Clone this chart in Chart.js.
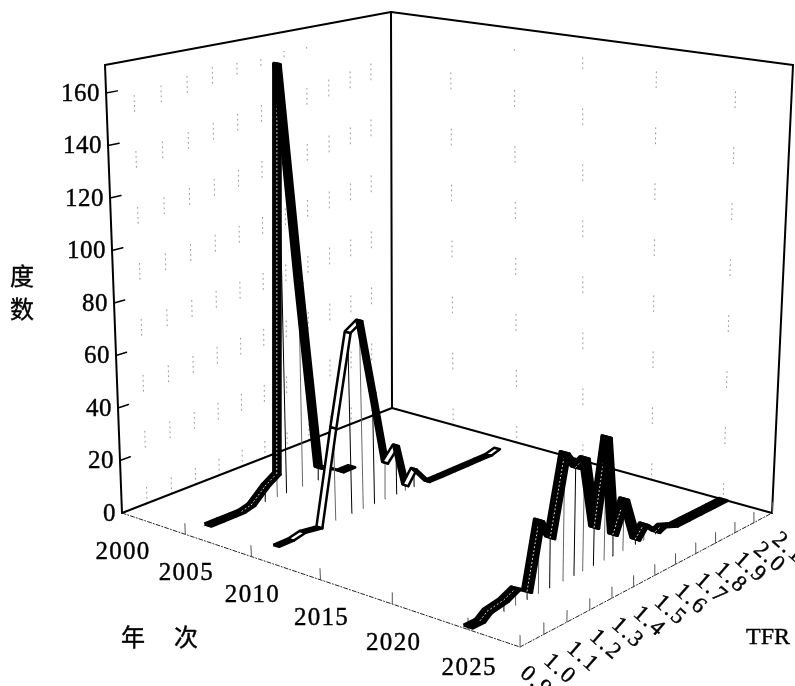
<!DOCTYPE html>
<html>
<head>
<meta charset="utf-8">
<title>TFR</title>
<script src="https://cdn.jsdelivr.net/npm/chart.js@4"></script>
<style>
  html, body { margin: 0; padding: 0; background: #fff; overflow: hidden; }
  canvas { display: block; }
</style>
</head>
<body>
<canvas id="tfrchart" width="795" height="686"></canvas>
<script>
// values
const yearTicks = [2000, 2005, 2010, 2015, 2020, 2025];
const tfrTicks = [0.9, 1.0, 1.1, 1.2, 1.3, 1.4, 1.5, 1.6, 1.7, 1.8, 1.9, 2.0, 2.1];
const countTicks = [0, 20, 40, 60, 80, 100, 120, 140, 160];

const tfr2005 = [0.99, 1.04, 1.09, 1.13, 1.17, 1.23, 1.28, 1.32, 1.39, 1.46, 1.51, 1.56, 1.61];
const count2005 = [0, 0, 0, 0, 1, 6, 9, 167, 80, 5, 3, 0, 0];

const tfr2010 = [1.0, 1.06, 1.11, 1.18, 1.25, 1.32, 1.37, 1.42, 1.47, 1.52, 1.56, 1.6, 1.66, 1.72, 1.78, 1.84, 1.9, 1.96, 2.0];
const count2010 = [0, 0, 1, 0, 35, 69, 72, 43, 14, 19, 2, 7, 0, 0, 0, 0, 0, 0, 1];

const tfr2025 = [0.9, 0.95, 0.98, 1.05, 1.1, 1.15, 1.2, 1.25, 1.31, 1.36, 1.4, 1.45, 1.5, 1.54, 1.59, 1.65, 1.69, 1.75, 1.78, 1.84, 1.9, 1.96, 2.03, 2.1];
const count2025 = [1, 1, 3, 4, 6, 3, 26, 18, 46, 39, 41, 14, 45, 8, 19, 2, 6, 1, 2, 0, 0, 0, 0, 0];

// box corners on the page, used for the perspective
const yearMin = 2000, yearMax = 2028.3, tfrMin = 0.9, tfrMax = 2.1, countMax = 170.7;
const floorQuad = [[122, 513], [520, 647], [772, 513], [392, 408]];
const topQuad = [[105, 65], [523, 147], [793, 65], [391, 12]];

// square to quad homography
function makeHomography(q) {
  const [p0, p1, p2, p3] = q;
  const dx1 = p1[0] - p2[0], dx2 = p3[0] - p2[0], sx = p0[0] - p1[0] + p2[0] - p3[0];
  const dy1 = p1[1] - p2[1], dy2 = p3[1] - p2[1], sy = p0[1] - p1[1] + p2[1] - p3[1];
  const det = dx1 * dy2 - dx2 * dy1;
  const g = (sx * dy2 - dx2 * sy) / det;
  const h = (dx1 * sy - sx * dy1) / det;
  const a = p1[0] - p0[0] + g * p1[0], b = p3[0] - p0[0] + h * p3[0];
  const d = p1[1] - p0[1] + g * p1[1], e = p3[1] - p0[1] + h * p3[1];
  return (u, v) => {
    const w = g * u + h * v + 1;
    return [(a * u + b * v + p0[0]) / w, (d * u + e * v + p0[1]) / w];
  };
}
const floorMap = makeHomography(floorQuad);
const topMap = makeHomography(topQuad);

function project(year, tfr, count) {
  const u = (year - yearMin) / (yearMax - yearMin);
  const v = (tfr - tfrMin) / (tfrMax - tfrMin);
  const f = floorMap(u, v), t = topMap(u, v), w = count / countMax;
  return { x: f[0] + (t[0] - f[0]) * w, y: f[1] + (t[1] - f[1]) * w };
}

const datasets = [];

function addLine(points, color, width, dash) {
  datasets.push({
    data: points, showLine: true, pointRadius: 0, tension: 0,
    borderColor: color, borderWidth: width, borderDash: dash || [],
    borderCapStyle: 'round', borderJoinStyle: 'round', fill: false
  });
}

// sparse dotted grid on both walls
const wallDots = [1, 4, 1, 4, 1, 4, 1, 40];
tfrTicks.slice(1, -1).forEach((t) => {
  addLine([project(yearMin, t, 0), project(yearMin, t, countMax - 8)], '#999', 1, wallDots);
});
yearTicks.slice(1).forEach((y) => {
  addLine([project(y, tfrMax, 0), project(y, tfrMax, countMax - 8)], '#999', 1, wallDots);
});

// box frame
const frame = [
  [[yearMin, tfrMin, 0], [yearMin, tfrMax, 0]],
  [[yearMin, tfrMax, 0], [yearMax, tfrMax, 0]],
  [[yearMin, tfrMin, 0], [yearMin, tfrMin, countMax]],
  [[yearMin, tfrMax, 0], [yearMin, tfrMax, countMax]],
  [[yearMax, tfrMax, 0], [yearMax, tfrMax, countMax]],
  [[yearMin, tfrMin, countMax], [yearMin, tfrMax, countMax]],
  [[yearMin, tfrMax, countMax], [yearMax, tfrMax, countMax]]
];
frame.forEach((e) => addLine(e.map((p) => project(p[0], p[1], p[2])), '#000', 2));

// front edges of the floor
addLine([project(yearMin, tfrMin, 0), project(yearMax, tfrMin, 0)], '#222', 1, [4, 2, 1, 2]);
addLine([project(yearMax, tfrMin, 0), project(yearMax, tfrMax, 0)], '#222', 1, [4, 2, 1, 2]);

// ticks
countTicks.slice(1).forEach((c) => {
  addLine([project(yearMin, tfrMin, c), project(yearMin, tfrMin + 0.04, c)], '#000', 1.5);
});
yearTicks.slice(1).forEach((y) => {
  addLine([project(y, tfrMin, 0), project(y, tfrMin, 4)], '#555', 1);
});
tfrTicks.forEach((t) => {
  addLine([project(yearMax, t, 0), project(yearMax, t, 4)], '#555', 1);
});

// one ribbon per year, back to front
function addRibbon(year, tfr, counts, half, stroke, riseFill, riseDots) {
  tfr.forEach((t, i) => {
    addLine([project(year, t, 0), project(year, t, counts[i])], i % 2 ? '#000' : '#666', 1);
  });
  for (let i = 0; i < tfr.length - 1; i++) {
    const rising = counts[i + 1] > counts[i];
    const fillColor = rising ? riseFill : '#000';
    datasets.push({
      data: [
        project(year - half, tfr[i], counts[i]),
        project(year - half, tfr[i + 1], counts[i + 1]),
        project(year + half, tfr[i + 1], counts[i + 1]),
        project(year + half, tfr[i], counts[i]),
        project(year - half, tfr[i], counts[i])
      ],
      showLine: true, pointRadius: 0, tension: 0,
      borderColor: '#000', borderWidth: stroke, borderJoinStyle: 'round',
      fill: 'shape', backgroundColor: fillColor
    });
    if (rising && riseDots) {
      addLine([project(year, tfr[i], counts[i]), project(year, tfr[i + 1], counts[i + 1])], '#ddd', 1, [1, 3]);
    }
  }
}
addRibbon(2005, tfr2005, count2005, 0.27, 3, '#000', true);
addRibbon(2010, tfr2010, count2010, 0.22, 2.5, '#fff', false);
addRibbon(2025, tfr2025, count2025, 0.3, 3, '#000', true);

// text labels
const serif = '"Liberation Serif", serif';
const cjk = '"Noto Sans CJK SC", sans-serif';
const labelsPlugin = {
  id: 'labelsPlugin',
  afterDraw(chart) {
    const ctx = chart.ctx, sx = chart.scales.x, sy = chart.scales.y;
    const put = (txt, p, dx, dy, font, angle, spacing, align) => {
      ctx.save();
      ctx.translate(sx.getPixelForValue(p.x) + dx, sy.getPixelForValue(p.y) + dy);
      ctx.rotate(angle || 0);
      ctx.font = font;
      ctx.letterSpacing = spacing || '0px';
      ctx.fillStyle = '#000';
      ctx.strokeStyle = '#000';
      ctx.lineWidth = 0.4;
      ctx.textAlign = align || 'center';
      ctx.textBaseline = 'middle';
      ctx.fillText(txt, 0, 0);
      ctx.strokeText(txt, 0, 0);
      ctx.restore();
    };
    countTicks.forEach((c) => {
      put(String(c), project(yearMin, tfrMin, c), -6, 1, '25px ' + serif, 0, '0.5px', 'right');
    });
    yearTicks.forEach((y) => {
      put(String(y), project(y, tfrMin, 0), 1, 39, '25px ' + serif, 0, '1.3px');
    });
    tfrTicks.forEach((t) => {
      put(t.toFixed(1), project(yearMax, t, 0), 16, 35, '23px ' + serif, 0.72, '2px');
    });
    put('TFR', { x: 768, y: 638 }, 0, 0, '24px ' + serif);
    put('度', { x: 22, y: 276 }, 0, 0, '24px ' + cjk);
    put('数', { x: 22, y: 309 }, 0, 0, '24px ' + cjk);
    put('年', { x: 133, y: 637 }, 0, 0, '24px ' + cjk);
    put('次', { x: 186, y: 637 }, 0, 0, '24px ' + cjk);
  }
};

new Chart(document.querySelector('#tfrchart').getContext('2d'), {
  type: 'scatter',
  data: { datasets: datasets.reverse() },
  options: {
    responsive: false,
    animation: false,
    layout: { padding: 0 },
    plugins: { legend: { display: false }, tooltip: { enabled: false } },
    scales: {
      x: { type: 'linear', min: 0, max: 795, display: false },
      y: { type: 'linear', min: 0, max: 686, reverse: true, display: false }
    }
  },
  plugins: [labelsPlugin]
});
</script>
</body>
</html>
